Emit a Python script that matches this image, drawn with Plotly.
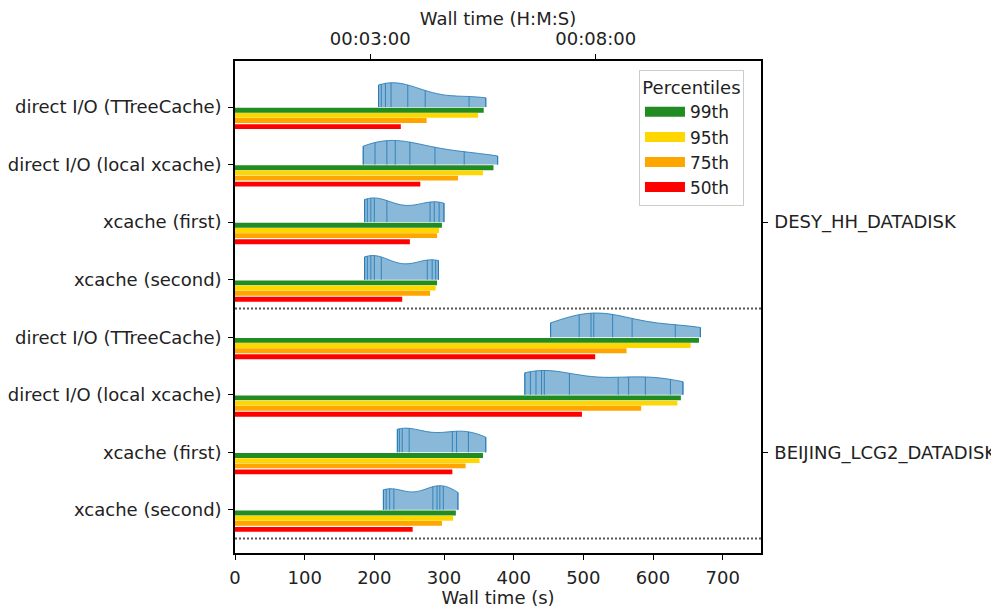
import numpy as np
import plotly.graph_objects as go

# ---------------- data ----------------
categories = [
    "direct I/O (TTreeCache)", "direct I/O (local xcache)", "xcache (first)", "xcache (second)",
    "direct I/O (TTreeCache)", "direct I/O (local xcache)", "xcache (first)", "xcache (second)",
]
sites = ["DESY_HH_DATADISK", "BEIJING_LCG2_DATADISK"]
site_rows = [2, 6]

p99 = [357, 371, 297, 290, 666, 640, 356, 317]
p95 = [349, 356, 293, 288, 654, 635, 351, 313]
p75 = [275, 320, 290, 280, 562, 583, 331, 297]
p50 = [238, 266, 251, 240, 517, 498, 312, 255]

s_desy_ttc = [206, 210, 216, 224, 248, 273, 336, 360]
s_desy_lxc = [184, 201, 218, 230, 251, 287, 329, 377]
s_desy_first = [186, 190, 195, 200, 218, 280, 286, 293, 300]
s_desy_second = [186, 190, 195, 200, 210, 276, 283, 288, 292]
s_bj_ttc = [453, 494, 511, 515, 542, 570, 632, 668]
s_bj_lxc = [416, 424, 432, 440, 444, 480, 550, 565, 589, 625, 643]
s_bj_first = [233, 236, 240, 250, 312, 318, 335, 360]
s_bj_second = [213, 217, 222, 228, 284, 290, 294, 299, 320]
samples = [s_desy_ttc, s_desy_lxc, s_desy_first, s_desy_second,
           s_bj_ttc, s_bj_lxc, s_bj_first, s_bj_second]

pct_names = ["99th", "95th", "75th", "50th"]
pct_values = [p99, p95, p75, p50]
pct_colors = ["forestgreen", "gold", "orange", "red"]

top_tickvals = [180, 480]
top_ticktext = ["00:03:00", "00:08:00"]
bottom_tickvals = [0, 100, 200, 300, 400, 500, 600, 700]

# ---------------- figure ----------------
FONT = "DejaVu Sans"
FS = 18
rows = list(range(len(categories)))
VH = 0.42           # violin half height (y units)
bar_off = [0.055, 0.145, 0.235, 0.34]
bar_w = 0.085
vfill = "rgba(31,119,180,0.52)"
vline = "rgba(31,119,180,0.8)"

fig = go.Figure()

for i, s in enumerate(samples):
    arr = np.array(s, dtype=float)
    bw = arr.std(ddof=1) * len(arr) ** (-0.2)
    fig.add_trace(go.Violin(
        x=arr, y0=i, orientation="h", side="negative", width=2 * VH,
        scalemode="width", spanmode="hard", bandwidth=bw, points=False,
        fillcolor=vfill, line=dict(color=vline, width=1),
        box_visible=False, meanline_visible=False,
        hoverinfo="skip", showlegend=False))
    grid = np.linspace(arr.min(), arr.max(), 400)

    def kde(x):
        return np.exp(-0.5 * ((x[:, None] - arr[None, :]) / bw) ** 2).sum(1)

    dmax = kde(grid).max()
    hs = kde(arr) / dmax * VH
    xs, ys = [], []
    for v, h in zip(arr, hs):
        xs += [v, v, None]
        ys += [i, i - h, None]
    fig.add_trace(go.Scatter(x=xs, y=ys, mode="lines",
                             line=dict(color=vline, width=1),
                             hoverinfo="skip", showlegend=False))

for vals, off, col, name in zip(pct_values, bar_off, pct_colors, pct_names):
    fig.add_trace(go.Bar(x=vals, y=[r + off for r in rows], orientation="h",
                         width=bar_w, marker=dict(color=col, line=dict(width=0)),
                         showlegend=False, name=name))

for col, name in zip(pct_colors, pct_names):
    fig.add_trace(go.Scatter(x=[None], y=[None], mode="lines",
                             line=dict(color=col, width=10), name=name))

fig.add_trace(go.Scatter(x=[None], y=[None], xaxis="x2", yaxis="y2",
                         showlegend=False, hoverinfo="skip"))

for ysep in [3.5, 7.5]:
    fig.add_shape(type="line", xref="x domain", yref="y", x0=0, x1=1,
                  y0=ysep, y1=ysep, line=dict(color="#555", width=2, dash="2px,2px"))

yrange = [7.75, -0.80]
axis_common = dict(showline=True, linecolor="black", linewidth=1.5,
                   ticks="outside", ticklen=5, tickcolor="black",
                   showgrid=False, zeroline=False, automargin=False,
                   tickfont=dict(family=FONT, size=FS, color="#222"))

# page body has an 8px margin, so the figure is 991x600 and offset by 8px
fig.update_layout(
    width=991, height=600,
    margin=dict(l=227, r=238, t=53, b=55),
    plot_bgcolor="white", paper_bgcolor="white",
    barmode="overlay", violinmode="overlay",
    font=dict(family=FONT, size=FS, color="#222"),
    xaxis=dict(range=[0, 755], tickvals=bottom_tickvals, ticklabelstandoff=3,
               title=dict(text="Wall time (s)", standoff=9,
                          font=dict(family=FONT, size=FS)),
               mirror=False, **axis_common),
    xaxis2=dict(range=[0, 700], overlaying="x", side="top", anchor="y",
                tickvals=top_tickvals, ticktext=top_ticktext, ticklabelstandoff=2,
                title=dict(text="Wall time (H:M:S)", standoff=0,
                           font=dict(family=FONT, size=FS)),
                **axis_common),
    yaxis=dict(range=yrange, tickvals=rows, ticktext=categories,
               ticklabelstandoff=3, **axis_common),
    yaxis2=dict(range=yrange, overlaying="y", side="right", anchor="x",
                tickvals=site_rows, ticktext=sites, ticklabelstandoff=3,
                **axis_common),
    legend=dict(x=0.768, y=0.982, xanchor="left", yanchor="top",
                bgcolor="rgba(255,255,255,0.9)", bordercolor="#cccccc", borderwidth=1,
                title=dict(text="Percentiles", side="top center",
                           font=dict(family=FONT, size=FS)),
                font=dict(family=FONT, size=17), itemwidth=40,
                tracegroupgap=0),
)

fig.write_html("out.html")
